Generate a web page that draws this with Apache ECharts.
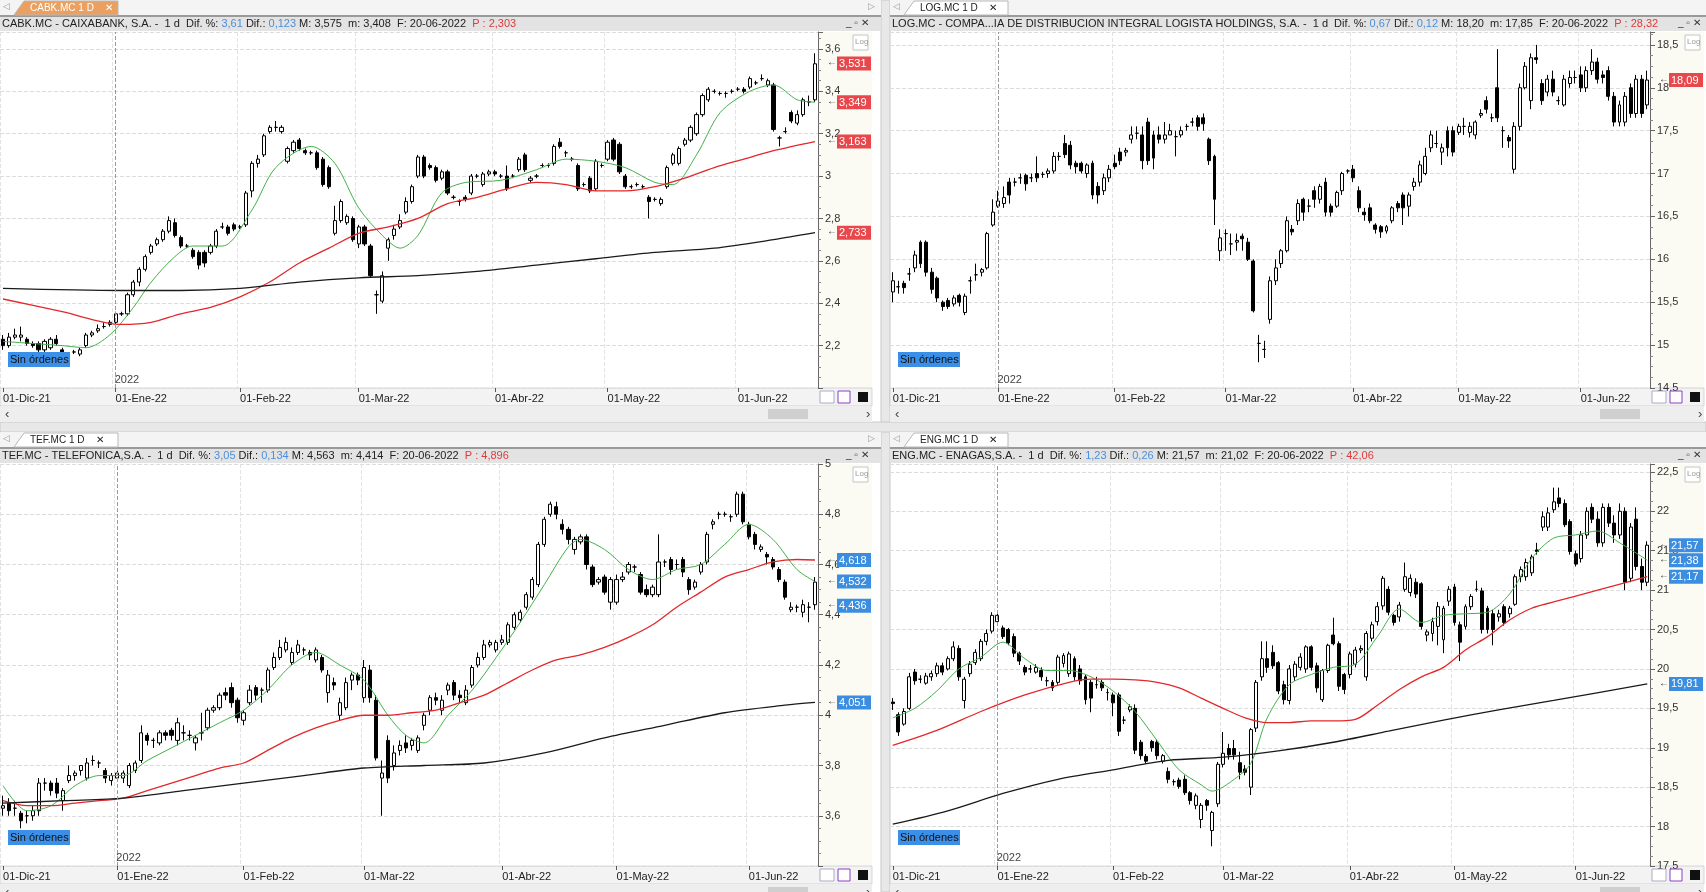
<!DOCTYPE html>
<html><head><meta charset="utf-8">
<script src="https://cdn.jsdelivr.net/npm/echarts/dist/echarts.min.js"></script>
<style>html,body{margin:0;padding:0;background:#fff;overflow:hidden}#c{width:1706px;height:892px}</style>
</head><body><div id="c"></div>
<script>
const monthLabels=['01-Dic-21','01-Ene-22','01-Feb-22','01-Mar-22','01-Abr-22','01-May-22','01-Jun-22'];
const monthCounts=[19,21,20,23,19,22,14];

// [open, close, low, high]
const cabk=[[2.23,2.20,2.18,2.25],[2.20,2.24,2.19,2.26],[2.24,2.25,2.23,2.28],[2.24,2.25,2.22,2.29],[2.23,2.21,2.20,2.24],[2.21,2.20,2.19,2.22],[2.21,2.18,2.17,2.22],[2.18,2.22,2.17,2.23],[2.19,2.23,2.18,2.24],[2.23,2.21,2.20,2.25],[2.18,2.17,2.15,2.19],[2.14,2.13,2.11,2.15],[2.17,2.17,2.16,2.18],[2.16,2.18,2.15,2.19],[2.20,2.25,2.19,2.26],[2.25,2.26,2.24,2.27],[2.27,2.28,2.26,2.30],[2.29,2.29,2.28,2.31],[2.30,2.31,2.29,2.32],
[2.31,2.35,2.30,2.36],[2.35,2.35,2.34,2.36],[2.35,2.44,2.34,2.45],[2.44,2.50,2.43,2.51],[2.50,2.56,2.48,2.57],[2.56,2.62,2.55,2.63],[2.64,2.67,2.63,2.68],[2.68,2.70,2.67,2.71],[2.70,2.74,2.69,2.75],[2.74,2.79,2.73,2.81],[2.78,2.72,2.71,2.80],[2.71,2.67,2.66,2.72],[2.67,2.67,2.66,2.68],[2.65,2.62,2.61,2.66],[2.64,2.58,2.56,2.65],[2.64,2.59,2.57,2.65],[2.64,2.67,2.63,2.68],[2.67,2.74,2.66,2.75],[2.76,2.76,2.75,2.78],[2.76,2.73,2.72,2.77],[2.77,2.75,2.74,2.78],
[2.76,2.76,2.75,2.77],[2.77,2.92,2.76,2.93],[2.93,3.06,2.90,3.07],[3.06,3.08,3.04,3.10],[3.10,3.19,3.09,3.20],[3.21,3.23,3.20,3.24],[3.23,3.23,3.21,3.26],[3.21,3.23,3.20,3.24],[3.07,3.13,3.06,3.14],[3.12,3.16,3.11,3.17],[3.17,3.13,3.12,3.18],[3.12,3.11,3.10,3.13],[3.11,3.11,3.10,3.12],[3.11,3.04,3.03,3.12],[3.08,2.96,2.95,3.09],[3.04,2.95,2.94,3.05],[2.73,2.79,2.72,2.86],[2.79,2.88,2.78,2.89],[2.78,2.81,2.77,2.82],[2.80,2.70,2.69,2.81],
[2.68,2.76,2.66,2.77],[2.76,2.68,2.67,2.77],[2.67,2.53,2.52,2.68],[2.44,2.44,2.35,2.46],[2.41,2.53,2.40,2.55],[2.66,2.70,2.60,2.71],[2.72,2.75,2.70,2.77],[2.76,2.79,2.75,2.82],[2.83,2.88,2.82,2.90],[2.88,2.95,2.87,2.96],[3.00,3.09,2.99,3.10],[3.09,3.00,2.99,3.10],[3.05,3.04,3.03,3.06],[3.04,2.98,2.97,3.05],[2.99,3.02,2.98,3.03],[3.02,2.92,2.91,3.03],[2.90,2.90,2.89,2.91],[2.88,2.88,2.86,2.89],[2.90,2.89,2.88,2.91],[2.92,3.00,2.91,3.01],[3.00,3.00,2.99,3.01],[2.96,3.01,2.95,3.02],[3.01,3.02,3.00,3.03],
[3.02,3.01,3.00,3.03],[3.00,3.00,2.99,3.01],[3.00,2.94,2.93,3.05],[3.00,3.00,2.99,3.01],[3.03,3.08,3.02,3.09],[3.10,3.03,3.02,3.11],[2.98,2.99,2.97,3.00],[3.00,3.00,2.99,3.01],[3.05,3.05,3.04,3.06],[3.05,3.05,3.04,3.06],[3.06,3.14,3.05,3.15],[3.16,3.14,3.13,3.18],[3.11,3.11,3.09,3.12],[3.08,3.08,3.07,3.09],[3.05,2.94,2.93,3.06],[2.96,2.96,2.95,2.97],[2.99,2.93,2.92,3.00],[2.94,3.07,2.93,3.08],[3.05,3.05,3.04,3.06],
[3.08,3.16,3.07,3.17],[3.17,3.08,3.07,3.18],[3.15,3.02,3.01,3.16],[3.00,2.95,2.94,3.01],[2.95,2.95,2.94,2.96],[2.96,2.96,2.95,2.97],[2.95,2.95,2.94,2.96],[2.90,2.88,2.80,2.91],[2.89,2.89,2.88,2.90],[2.87,2.89,2.86,2.90],[2.95,3.04,2.94,3.05],[3.06,3.10,3.05,3.11],[3.06,3.13,3.05,3.14],[3.15,3.17,3.14,3.18],[3.17,3.23,3.16,3.24],[3.20,3.29,3.19,3.30],[3.29,3.38,3.28,3.39],[3.36,3.41,3.35,3.42],[3.40,3.40,3.39,3.41],[3.39,3.39,3.38,3.40],[3.39,3.39,3.37,3.40],[3.40,3.40,3.39,3.41],
[3.41,3.41,3.40,3.42],[3.41,3.40,3.39,3.42],[3.42,3.46,3.41,3.47],[3.44,3.44,3.43,3.45],[3.46,3.46,3.45,3.48],[3.43,3.45,3.42,3.46],[3.43,3.22,3.21,3.44],[3.18,3.18,3.14,3.19],[3.21,3.21,3.20,3.23],[3.30,3.26,3.25,3.31],[3.25,3.29,3.24,3.31],[3.29,3.36,3.28,3.37],[3.35,3.35,3.33,3.38],[3.36,3.53,3.35,3.58]];
const cabkMaGreen=[[0,2.22],[5,2.21],[10,2.2],[14,2.19],[18,2.25],[22,2.38],[25,2.5],[29,2.62],[32,2.67],[37,2.67],[42,2.84],[46,3.04],[52,3.14],[56,3.06],[60,2.85],[64,2.72],[67,2.66],[70,2.72],[74,2.92],[78,2.97],[84,2.98],[90,3.03],[95,3.08],[100,3.07],[105,3.04],[110,2.97],[113,2.96],[117,3.1],[121,3.3],[126,3.4],[130,3.43],[134,3.36],[137,3.349]];
const cabkMaRed=[[0,2.42],[10,2.36],[20,2.3],[25,2.31],[30,2.35],[35,2.38],[40,2.43],[45,2.5],[50,2.59],[55,2.66],[60,2.73],[65,2.76],[70,2.8],[75,2.87],[80,2.9],[85,2.94],[90,2.97],[95,2.96],[100,2.93],[105,2.93],[110,2.95],[115,2.99],[120,3.04],[125,3.08],[130,3.12],[137,3.163]];
const cabkMaBlack=[[0,2.47],[20,2.46],[30,2.46],[40,2.47],[50,2.5],[60,2.52],[70,2.53],[80,2.55],[90,2.58],[100,2.61],[110,2.64],[120,2.66],[130,2.7],[137,2.733]];

const logi=[[15.62,15.75,15.5,15.85],[15.68,15.68,15.6,15.75],[15.72,15.67,15.6,15.75],[15.83,15.83,15.75,15.9],[15.9,16.05,15.85,16.1],[16.2,15.95,15.9,16.22],[16.2,15.85,15.8,16.22],[15.85,15.65,15.6,15.9],[15.78,15.55,15.5,15.8],[15.5,15.45,15.4,15.52],[15.52,15.45,15.42,15.55],[15.48,15.55,15.45,15.58],[15.58,15.5,15.45,15.6],[15.38,15.57,15.35,15.6],[15.75,15.75,15.6,15.8],[15.82,15.82,15.75,15.95],[15.85,15.88,15.8,15.9],[15.9,16.3,15.88,16.32],[16.4,16.55,16.38,16.7],[16.62,16.68,16.6,16.8],
[16.65,16.72,16.6,16.85],[16.9,16.75,16.65,16.95],[16.9,16.9,16.85,16.95],[16.95,16.95,16.88,17.0],[16.98,16.88,16.8,17.0],[16.95,16.95,16.9,17.0],[17.0,16.95,16.9,17.2],[16.99,16.99,16.95,17.02],[17.0,17.03,16.95,17.06],[17.03,17.2,17.0,17.25],[17.2,17.2,17.15,17.25],[17.35,17.22,17.18,17.45],[17.33,17.1,17.05,17.38],[17.12,17.08,17.0,17.15],[17.12,17.03,17.0,17.14],[17.0,17.1,16.95,17.12],[17.12,16.75,16.7,17.15],[16.85,16.75,16.65,16.9],[16.8,16.95,16.75,17.0],[16.95,17.05,16.9,17.1],
[17.12,17.08,17.05,17.22],[17.25,17.15,17.1,17.3],[17.25,17.27,17.2,17.3],[17.4,17.45,17.35,17.55],[17.47,17.47,17.4,17.55],[17.45,17.15,17.05,17.55],[17.6,17.15,17.1,17.65],[17.45,17.18,17.05,17.5],[17.45,17.4,17.35,17.55],[17.4,17.45,17.35,17.6],[17.45,17.5,17.45,17.58],[17.43,17.43,17.2,17.5],[17.45,17.5,17.42,17.55],[17.55,17.55,17.5,17.58],[17.6,17.6,17.55,17.65],[17.65,17.55,17.5,17.68],[17.65,17.58,17.5,17.7],[17.4,17.15,17.1,17.42],[17.2,16.7,16.4,17.22],[16.1,16.25,15.98,16.35],
[16.3,16.3,16.1,16.35],[16.18,16.18,16.05,16.3],[16.2,16.22,16.1,16.3],[16.27,16.24,16.1,16.3],[16.2,16.0,15.98,16.25],[15.98,15.4,15.38,16.0],[15.02,15.02,14.8,15.12],[14.95,14.95,14.85,15.05],[15.3,15.75,15.25,15.8],[15.75,15.9,15.7,16.0],[15.95,16.1,15.9,16.12],[16.1,16.45,16.08,16.5],[16.35,16.32,16.28,16.4],[16.45,16.65,16.4,16.7],[16.7,16.55,16.45,16.72],[16.62,16.62,16.55,16.7],[16.8,16.7,16.6,16.85],[16.7,16.85,16.65,16.88],[16.9,16.55,16.5,16.95],[16.62,16.55,16.5,16.65],
[16.62,16.78,16.6,16.8],[16.8,17.0,16.75,17.02],[17.03,17.03,17.0,17.05],[17.05,16.95,16.9,17.1],[16.8,16.6,16.55,16.85],[16.55,16.52,16.45,16.6],[16.6,16.45,16.42,16.65],[16.4,16.35,16.3,16.42],[16.38,16.32,16.25,16.4],[16.33,16.38,16.3,16.4],[16.45,16.6,16.42,16.62],[16.65,16.6,16.55,16.68],[16.75,16.6,16.4,16.78],[16.62,16.75,16.5,16.78],[16.85,16.9,16.8,16.95],[16.9,17.1,16.85,17.15],[17.0,17.2,16.98,17.3],[17.3,17.45,17.25,17.5],[17.35,17.35,17.3,17.5],[17.25,17.3,17.1,17.35],
[17.5,17.3,17.2,17.55],[17.5,17.25,17.2,17.55],[17.48,17.55,17.45,17.58],[17.55,17.55,17.45,17.65],[17.48,17.55,17.42,17.6],[17.45,17.6,17.4,17.62],[17.68,17.7,17.65,17.75],[17.85,17.75,17.7,17.9],[17.65,17.65,17.6,17.7],[18.0,17.65,17.6,18.45],[17.5,17.5,17.3,17.55],[17.42,17.38,17.3,17.45],[17.05,17.55,17.0,17.6],[17.55,18.0,17.5,18.05],[18.0,18.25,17.98,18.3],[17.85,18.35,17.75,18.4],[18.35,18.33,18.28,18.5],[18.05,17.85,17.8,18.1],[17.95,18.1,17.9,18.15],[18.1,17.95,17.9,18.2],
[17.85,17.85,17.8,17.9],[17.8,18.1,17.78,18.15],[18.05,18.12,18.0,18.2],[18.12,18.12,18.05,18.2],[18.15,18.0,17.95,18.25],[18.0,18.2,17.95,18.25],[18.2,18.3,18.15,18.45],[18.3,18.1,18.05,18.35],[18.15,18.12,18.05,18.2],[18.2,17.9,17.85,18.25],[17.9,17.6,17.55,17.95],[17.6,17.8,17.55,17.85],[17.6,17.9,17.55,17.95],[18.0,17.7,17.65,18.05],[17.7,18.1,17.65,18.15],[18.1,17.7,17.65,18.15],[17.8,18.09,17.75,18.2]];

const tef=[[3.63,3.64,3.6,3.68],[3.65,3.62,3.6,3.67],[3.63,3.63,3.6,3.66],[3.61,3.58,3.55,3.62],[3.6,3.6,3.57,3.62],[3.6,3.62,3.58,3.64],[3.62,3.73,3.6,3.75],[3.73,3.73,3.7,3.75],[3.73,3.7,3.68,3.74],[3.73,3.69,3.67,3.75],[3.66,3.7,3.62,3.71],[3.74,3.76,3.73,3.8],[3.76,3.77,3.74,3.78],[3.78,3.8,3.76,3.8],[3.75,3.81,3.74,3.83],[3.82,3.82,3.8,3.84],[3.81,3.81,3.79,3.82],[3.78,3.75,3.73,3.79],[3.74,3.76,3.72,3.77],[3.75,3.77,3.74,3.78],
[3.75,3.77,3.73,3.78],[3.72,3.8,3.71,3.81],[3.78,3.81,3.77,3.82],[3.82,3.93,3.81,3.96],[3.92,3.9,3.88,3.93],[3.9,3.9,3.87,3.91],[3.89,3.93,3.88,3.94],[3.93,3.92,3.9,3.94],[3.94,3.92,3.9,3.95],[3.9,3.97,3.88,3.99],[3.93,3.93,3.9,3.96],[3.92,3.92,3.9,3.94],[3.89,3.91,3.86,3.92],[3.93,3.93,3.9,4.01],[3.95,4.02,3.94,4.03],[4.02,4.03,4.01,4.04],[4.03,4.08,4.02,4.09],[4.09,4.08,4.06,4.11],[4.11,4.05,4.03,4.13],[4.06,3.99,3.97,4.07],
[3.98,4.01,3.96,4.02],[4.05,4.1,4.04,4.12],[4.11,4.08,4.06,4.12],[4.1,4.1,4.05,4.11],[4.1,4.18,4.09,4.19],[4.19,4.23,4.18,4.25],[4.23,4.27,4.22,4.3],[4.26,4.29,4.25,4.31],[4.21,4.25,4.2,4.27],[4.25,4.28,4.24,4.3],[4.26,4.26,4.24,4.27],[4.25,4.24,4.22,4.26],[4.22,4.26,4.21,4.27],[4.23,4.18,4.17,4.24],[4.09,4.16,4.05,4.18],[4.13,4.12,4.1,4.15],[4.0,4.05,3.98,4.07],[4.03,4.13,4.02,4.15],[4.14,4.16,4.1,4.17],[4.16,4.14,4.12,4.17],
[4.07,4.19,4.05,4.22],[4.18,4.07,4.05,4.2],[4.06,3.83,3.82,4.08],[3.75,3.77,3.6,3.82],[3.9,3.75,3.73,3.92],[3.8,3.85,3.78,3.88],[3.86,3.88,3.84,3.9],[3.89,3.87,3.85,3.92],[3.88,3.9,3.86,3.91],[3.86,3.91,3.85,3.92],[3.96,4.0,3.94,4.01],[4.02,4.07,4.0,4.08],[4.07,4.06,4.04,4.09],[4.02,4.06,4.0,4.08],[4.1,4.12,4.08,4.13],[4.13,4.08,4.06,4.14],[4.08,4.07,4.05,4.1],[4.05,4.1,4.04,4.12],[4.12,4.19,4.11,4.2],[4.2,4.23,4.19,4.25],
[4.23,4.28,4.22,4.3],[4.28,4.29,4.27,4.3],[4.26,4.29,4.25,4.3],[4.29,4.3,4.28,4.32],[4.29,4.36,4.28,4.37],[4.35,4.4,4.34,4.41],[4.38,4.41,4.37,4.42],[4.43,4.48,4.42,4.49],[4.47,4.54,4.46,4.55],[4.52,4.68,4.51,4.69],[4.68,4.78,4.67,4.79],[4.8,4.84,4.79,4.85],[4.83,4.8,4.78,4.85],[4.76,4.74,4.72,4.78],[4.74,4.7,4.68,4.75],[4.66,4.7,4.64,4.71],[4.69,4.71,4.68,4.72],[4.71,4.6,4.58,4.72],[4.59,4.52,4.51,4.6],[4.53,4.54,4.52,4.55],
[4.55,4.49,4.48,4.56],[4.45,4.54,4.42,4.55],[4.45,4.54,4.44,4.56],[4.54,4.55,4.53,4.57],[4.57,4.6,4.56,4.61],[4.59,4.59,4.57,4.6],[4.56,4.49,4.48,4.57],[4.5,4.48,4.47,4.52],[4.48,4.51,4.47,4.52],[4.48,4.61,4.47,4.72],[4.61,4.61,4.59,4.62],[4.62,4.58,4.56,4.63],[4.6,4.6,4.58,4.62],[4.62,4.57,4.55,4.63],[4.54,4.5,4.48,4.55],[4.51,4.53,4.5,4.54],[4.57,4.6,4.56,4.61],[4.61,4.72,4.6,4.73],[4.76,4.77,4.74,4.78],[4.8,4.8,4.78,4.81],
[4.8,4.8,4.79,4.81],[4.79,4.79,4.77,4.8],[4.8,4.88,4.79,4.89],[4.88,4.77,4.76,4.89],[4.76,4.71,4.7,4.77],[4.72,4.68,4.66,4.73],[4.66,4.67,4.65,4.68],[4.64,4.63,4.6,4.65],[4.62,4.59,4.58,4.63],[4.58,4.54,4.53,4.59],[4.53,4.47,4.46,4.54],[4.42,4.43,4.41,4.45],[4.43,4.43,4.41,4.44],[4.41,4.44,4.39,4.46],[4.43,4.43,4.37,4.45],[4.44,4.53,4.42,4.55]];
const tefMaGreen=[[0,3.72],[4,3.62],[8,3.64],[12,3.72],[16,3.76],[20,3.76],[24,3.82],[28,3.87],[32,3.92],[36,3.97],[40,4.02],[44,4.1],[48,4.2],[52,4.25],[56,4.2],[60,4.14],[64,4.0],[67,3.92],[70,3.89],[74,4.0],[78,4.1],[82,4.23],[86,4.37],[90,4.52],[94,4.67],[96,4.7],[100,4.66],[104,4.58],[108,4.54],[112,4.58],[116,4.6],[120,4.68],[124,4.76],[128,4.7],[132,4.58],[135,4.532]];
const tefMaRed=[[0,3.66],[4,3.64],[8,3.64],[12,3.65],[16,3.66],[20,3.67],[24,3.7],[28,3.73],[32,3.76],[36,3.79],[40,3.81],[44,3.86],[48,3.91],[52,3.95],[56,3.98],[60,4.0],[64,4.0],[68,4.01],[72,4.02],[76,4.05],[80,4.08],[84,4.13],[88,4.18],[92,4.22],[96,4.24],[100,4.27],[104,4.31],[108,4.36],[112,4.43],[116,4.49],[120,4.55],[124,4.58],[128,4.61],[132,4.62],[135,4.618]];
const tefMaBlack=[[0,3.65],[10,3.66],[20,3.67],[30,3.7],[40,3.73],[50,3.76],[60,3.79],[70,3.8],[80,3.81],[90,3.85],[100,3.91],[110,3.96],[120,4.01],[130,4.04],[135,4.051]];

const eng=[[19.58,19.56,19.48,19.63],[19.42,19.2,19.15,19.45],[19.3,19.46,19.28,19.5],[19.5,19.9,19.48,19.95],[19.96,19.85,19.8,20.0],[19.87,19.87,19.82,19.92],[19.82,19.91,19.8,19.95],[19.9,19.94,19.85,19.98],[19.94,20.04,19.9,20.08],[20.04,19.96,19.92,20.08],[20.0,20.13,19.98,20.16],[20.13,20.28,20.1,20.35],[20.26,19.9,19.85,20.3],[19.6,19.87,19.5,19.9],[19.94,20.06,19.9,20.1],[20.08,20.21,20.05,20.25],[20.13,20.35,20.1,20.38],[20.35,20.45,20.3,20.5],[20.48,20.68,20.45,20.72],[20.6,20.68,20.55,20.73],
[20.52,20.41,20.38,20.55],[20.5,20.33,20.3,20.52],[20.41,20.2,20.15,20.45],[20.2,20.1,20.05,20.22],[20.02,19.96,19.92,20.05],[20.0,20.0,19.95,20.05],[19.96,20.02,19.94,20.06],[19.98,19.9,19.85,20.02],[19.85,19.85,19.78,19.9],[19.83,19.76,19.72,19.86],[19.83,20.15,19.8,20.18],[20.07,20.17,20.02,20.2],[19.94,20.19,19.9,20.22],[20.13,19.9,19.85,20.16],[20.0,19.85,19.8,20.05],[19.9,19.61,19.55,19.93],[19.83,19.63,19.45,19.86],[19.8,19.8,19.75,19.9],[19.83,19.76,19.72,19.86],[19.7,19.7,19.6,19.75],
[19.67,19.57,19.4,19.7],[19.67,19.21,19.15,19.7],[19.35,19.35,19.3,19.4],[19.48,19.52,19.45,19.55],[19.5,18.97,18.92,19.55],[19.07,18.9,18.85,19.1],[18.89,18.83,18.8,18.92],[19.08,19.0,18.95,19.1],[19.07,18.9,18.85,19.1],[18.83,18.9,18.8,18.92],[18.7,18.6,18.55,18.75],[18.57,18.57,18.52,18.6],[18.59,18.51,18.48,18.62],[18.6,18.43,18.4,18.65],[18.43,18.33,18.28,18.45],[18.27,18.39,18.22,18.42],[18.09,18.27,17.98,18.3],[18.33,18.27,18.2,18.35],[17.95,18.18,17.75,18.2],[18.29,18.79,18.25,18.82],
[18.79,18.93,18.75,19.2],[18.99,18.91,18.85,19.05],[18.99,18.91,18.85,19.1],[18.81,18.69,18.6,18.95],[18.73,18.69,18.65,18.78],[18.5,19.23,18.4,19.25],[19.25,19.83,19.2,19.86],[19.9,20.13,19.85,20.35],[20.13,20.02,19.95,20.35],[20.21,20.04,20.0,20.3],[20.08,19.72,19.68,20.1],[19.8,19.61,19.55,19.85],[19.6,20.0,19.55,20.05],[19.9,20.06,19.85,20.1],[20.02,20.15,19.98,20.2],[20.0,20.28,19.95,20.3],[20.28,20.02,19.98,20.3],[20.04,19.76,19.7,20.08],[19.61,19.98,19.58,20.0],[19.98,20.3,19.95,20.32],
[20.43,20.32,20.3,20.65],[20.32,19.78,19.72,20.35],[19.93,19.74,19.68,19.95],[19.93,20.19,19.88,20.22],[20.06,20.24,20.02,20.28],[20.24,20.26,20.2,20.3],[19.9,20.45,19.85,20.48],[20.39,20.56,20.35,20.6],[20.6,20.79,20.55,20.85],[20.8,21.15,20.75,21.18],[21.01,20.72,20.68,21.05],[20.68,20.59,20.55,20.7],[20.66,20.81,20.6,20.85],[21.01,21.17,20.98,21.35],[20.97,21.15,20.92,21.2],[21.1,20.95,20.9,21.15],[21.08,20.54,20.5,21.1],[20.43,20.47,20.35,20.5],[20.45,20.6,20.35,20.65],[20.54,20.79,20.3,20.85],
[20.37,20.77,20.2,20.8],[20.86,21.01,20.8,21.05],[21.04,20.59,20.55,21.08],[20.56,20.34,20.1,20.6],[20.54,20.79,20.5,20.82],[20.79,20.92,20.75,20.95],[21.01,21.01,20.98,21.12],[20.99,20.5,20.45,21.03],[20.77,20.5,20.45,20.8],[20.7,20.5,20.3,20.75],[20.66,20.7,20.6,20.75],[20.79,20.59,20.55,20.82],[20.7,20.77,20.65,20.8],[20.82,21.17,20.8,21.2],[21.17,21.26,21.1,21.3],[21.17,21.35,21.12,21.4],[21.22,21.42,21.18,21.45],[21.51,21.49,21.45,21.6],[21.8,21.93,21.75,22.0],[21.8,21.98,21.75,22.05],
[22.02,22.12,21.98,22.3],[22.17,22.1,22.05,22.3],[22.1,21.83,21.8,22.15],[21.87,21.49,21.45,21.9],[21.46,21.33,21.3,21.5],[21.4,21.7,21.35,21.75],[21.7,22.0,21.65,22.05],[22.05,21.9,21.85,22.1],[21.9,21.6,21.55,22.0],[21.6,22.05,21.55,22.1],[22.05,21.85,21.8,22.1],[21.85,21.7,21.6,21.95],[21.7,22.0,21.65,22.1],[22.0,21.1,21.0,22.05],[21.15,21.8,21.1,21.85],[21.9,21.3,21.25,22.05],[21.3,21.1,21.0,21.4],[21.1,21.57,21.05,21.62]];
const engMaGreen=[[0,19.38],[4,19.5],[8,19.72],[12,20.0],[16,20.15],[20,20.34],[24,20.13],[28,19.98],[32,19.98],[36,19.9],[40,19.72],[44,19.46],[48,19.09],[52,18.72],[56,18.53],[58,18.45],[62,18.6],[65,18.8],[68,19.38],[72,19.8],[76,19.93],[80,20.02],[84,20.06],[88,20.41],[92,20.76],[96,20.59],[100,20.68],[104,20.7],[108,20.72],[112,20.95],[116,21.4],[120,21.66],[124,21.7],[128,21.75],[132,21.6],[137,21.38]];
const engMaRed=[[0,19.03],[8,19.22],[16,19.46],[24,19.67],[32,19.83],[36,19.87],[40,19.87],[44,19.86],[48,19.83],[52,19.76],[56,19.63],[60,19.5],[64,19.38],[68,19.32],[72,19.32],[76,19.34],[80,19.34],[84,19.36],[88,19.54],[92,19.74],[96,19.9],[100,20.02],[104,20.24],[108,20.41],[112,20.62],[116,20.77],[120,20.85],[128,21.0],[137,21.17]];
const engMaBlack=[[0,18.03],[10,18.2],[20,18.42],[30,18.6],[40,18.72],[50,18.84],[60,18.88],[70,18.96],[80,19.07],[90,19.21],[100,19.35],[110,19.48],[120,19.6],[137,19.81]];

const cats=[];monthCounts.forEach((n,m)=>{for(let k=0;k<n;k++)cats.push(m+'_'+k);});

const panels=[
 {data:cabk,ma:[cabkMaGreen,cabkMaRed,cabkMaBlack],min:2.0,max:3.68,interval:0.2,minL:false,maxL:false,
  l:0,r:818,t:32,b:388,tabY:0,tab:'CABK.MC 1 D',active:true,
  head:['CABK.MC - CAIXABANK, S.A. -  1 d  Dif. %: ','3,61',' Dif.: ','0,123',' M: 3,575  m: 3,408  F: 20-06-2022  ','P : 2,303'],
  badges:[[3.531,'#e8474c'],[3.349,'#e8474c'],[3.163,'#e8474c'],[2.733,'#e8474c']]},
 {data:logi,ma:[],min:14.5,max:18.65,interval:0.5,minL:true,maxL:false,
  l:890,r:1650,t:32,b:388,tabY:0,tab:'LOG.MC 1 D',active:false,
  head:['LOG.MC - COMPA...IA DE DISTRIBUCION INTEGRAL LOGISTA HOLDINGS, S.A. -  1 d  Dif. %: ','0,67',' Dif.: ','0,12',' M: 18,20  m: 17,85  F: 20-06-2022  ','P : 28,32'],
  badges:[[18.09,'#e8474c']]},
 {data:tef,ma:[tefMaGreen,tefMaRed,tefMaBlack],min:3.4,max:5.0,interval:0.2,minL:false,maxL:true,
  l:0,r:818,t:464,b:866,tabY:432,tab:'TEF.MC 1 D',active:false,
  head:['TEF.MC - TELEFONICA,S.A. -  1 d  Dif. %: ','3,05',' Dif.: ','0,134',' M: 4,563  m: 4,414  F: 20-06-2022  ','P : 4,896'],
  badges:[[4.618,'#3b8de0'],[4.532,'#3b8de0'],[4.436,'#3b8de0'],[4.051,'#3b8de0']]},
 {data:eng,ma:[engMaGreen,engMaRed,engMaBlack],min:17.5,max:22.6,interval:0.5,minL:true,maxL:false,
  l:890,r:1650,t:464,b:866,tabY:432,tab:'ENG.MC 1 D',active:false,
  head:['ENG.MC - ENAGAS,S.A. -  1 d  Dif. %: ','1,23',' Dif.: ','0,26',' M: 21,57  m: 21,02  F: 20-06-2022  ','P : 42,06'],
  badges:[[21.57,'#3b8de0'],[21.38,'#3b8de0'],[21.17,'#3b8de0'],[19.81,'#3b8de0']]}
];
const maColors=['#43b04a','#e3282b','#1a1a1a'];
const FONT='"Liberation Sans", Arial, sans-serif';
const fmt=v=>String(+(+v).toFixed(3)).replace('.',',');

const grid=[],xAxis=[],yAxis=[],series=[],graphic=[];
const AX=54;
graphic.push({type:'rect',shape:{x:881,y:0,width:9,height:892},style:{fill:'#e8e8e8',stroke:'#c8c8c8'},z:-5});
graphic.push({type:'rect',shape:{x:0,y:422,width:1706,height:10},style:{fill:'#e8e8e8',stroke:'#c8c8c8'},z:-5});
panels.forEach((p,i)=>{
  grid.push({left:p.l,top:p.t,width:p.r-p.l,height:p.b-p.t,containLabel:false});
  const cs=cats.slice(0,p.data.length);
  xAxis.push({type:'category',gridIndex:i,data:cs,boundaryGap:true,
    axisLine:{show:false},
    axisTick:{show:true,alignWithLabel:true,length:4,interval:(k,v)=>v.endsWith('_0'),lineStyle:{color:'#555'}},
    axisLabel:{show:true,interval:(k,v)=>v.endsWith('_0'),formatter:v=>{const a=v.split('_');return a[1]==='0'?monthLabels[+a[0]]:'';},
      align:'left',margin:5,fontSize:11,color:'#222',fontFamily:FONT},
    splitLine:{show:true,interval:(k,v)=>v.endsWith('_0'),lineStyle:{color:'#e2e2e2',type:'dashed'}}});
  yAxis.push({type:'value',gridIndex:i,position:'right',min:p.min,max:p.max,interval:p.interval,scale:true,
    axisLine:{show:true,lineStyle:{color:'#666'}},
    axisTick:{show:true,length:5,lineStyle:{color:'#666'}},
    minorTick:{show:true,splitNumber:4,length:3,lineStyle:{color:'#888'}},
    axisLabel:{formatter:v=>String(+(+v).toFixed(2)).replace('.',','),fontSize:11,color:'#333',margin:7,fontFamily:FONT,showMinLabel:p.minL,showMaxLabel:p.maxL},
    splitLine:{show:true,lineStyle:{color:'#dcdcdc',type:'dashed'}}});
  series.push({type:'candlestick',xAxisIndex:i,yAxisIndex:i,data:p.data,barWidth:'62%',
    itemStyle:{color:'#ffffff',color0:'#000000',borderColor:'#000000',borderColor0:'#000000',borderWidth:1},
    markLine:{silent:true,symbol:'none',animation:false,label:{show:false},lineStyle:{color:'#9a9a9a',type:'dashed',width:1},data:[{xAxis:cats[19]}]},
    z:3});
  p.ma.forEach((m,j)=>series.push({type:'line',xAxisIndex:i,yAxisIndex:i,data:m,smooth:0.3,symbol:'none',
    lineStyle:{color:maColors[j],width:j===0?1:1.3},z:4,animation:false}));
  const pw=(p.l===0?881:1706)-p.l;
  graphic.push({type:'rect',shape:{x:p.l,y:p.tabY,width:pw,height:15},style:{fill:'#f4f4f4'},z:-4});
  graphic.push({type:'text',x:p.l+3,y:p.tabY+2,style:{text:'◁',fontSize:9,fill:'#999'},z:1});
  graphic.push({type:'polygon',shape:{points:[[p.l+14,p.tabY+15],[p.l+24,p.tabY+1],[p.l+118,p.tabY+1],[p.l+118,p.tabY+15]]},
    style:{fill:p.active?'#e9a061':'#ffffff',stroke:'#b8b8b8'},z:1});
  graphic.push({type:'text',x:p.l+30,y:p.tabY+3,style:{text:p.tab+'    ✕',fontSize:10,fill:p.active?'#fff':'#222',fontFamily:FONT},z:2});
  if(p.l===0) graphic.push({type:'text',x:868,y:p.tabY+2,style:{text:'▷',fontSize:9,fill:'#999'},z:1});
  graphic.push({type:'rect',shape:{x:p.l,y:p.tabY+15,width:pw,height:2},style:{fill:'#9a9a9a'},z:-3});
  graphic.push({type:'rect',shape:{x:p.l,y:p.tabY+17,width:pw,height:14},style:{fill:'#e3e3e3'},z:-3});
  const h=p.head;
  graphic.push({type:'text',x:p.l+2,y:p.tabY+18,style:{text:'{a|'+h[0]+'}{b|'+h[1]+'}{a|'+h[2]+'}{b|'+h[3]+'}{a|'+h[4]+'}{r|'+h[5]+'}',
    rich:{a:{fontSize:11,fill:'#222',fontFamily:FONT},b:{fontSize:11,fill:'#4a8fdb',fontFamily:FONT},r:{fontSize:11,fill:'#e03a3a',fontFamily:FONT}}},z:2});
  graphic.push({type:'text',x:p.r+28,y:p.tabY+18,style:{text:'_ ▫ ✕',fontSize:10,fill:'#333',fontFamily:FONT},z:2});
  graphic.push({type:'rect',shape:{x:p.r,y:p.t,width:AX,height:p.b-p.t},style:{fill:'#fbfbf4'},z:-4});
  graphic.push({type:'rect',shape:{x:p.r+35,y:p.t+3,width:15,height:15},style:{fill:'#fff',stroke:'#c4c4c4'},z:1});
  graphic.push({type:'text',x:p.r+37,y:p.t+6,style:{text:'Log',fontSize:8,fill:'#999',fontFamily:FONT},z:2});
  graphic.push({type:'rect',shape:{x:p.l,y:p.b,width:p.r+AX-p.l,height:18},style:{fill:'#f3f3f3',stroke:'#b0b0b0',lineWidth:0.5},z:-4});
  graphic.push({type:'rect',shape:{x:p.r+2,y:p.b+3,width:14,height:12},style:{fill:'#fff',stroke:'#aac'},z:1});
  graphic.push({type:'rect',shape:{x:p.r+20,y:p.b+3,width:12,height:12},style:{fill:'#fff',stroke:'#8a3ec8'},z:1});
  graphic.push({type:'rect',shape:{x:p.r+40,y:p.b+4,width:10,height:10},style:{fill:'#111'},z:1});
  if(p.b+18<892){
    graphic.push({type:'rect',shape:{x:p.l,y:p.b+18,width:p.r+AX-p.l,height:16},style:{fill:'#eeeeee'},z:-4});
    graphic.push({type:'text',x:p.l+5,y:p.b+20,style:{text:'‹',fontSize:13,fill:'#444'},z:1});
    graphic.push({type:'rect',shape:{x:p.r-50,y:p.b+21,width:40,height:10},style:{fill:'#cfcfcf'},z:1});
    graphic.push({type:'text',x:p.r+AX-6,y:p.b+20,style:{text:'›',fontSize:13,fill:'#444'},z:1});
  }
  graphic.push({type:'rect',shape:{x:p.l+8,y:p.b-36,width:62,height:15},style:{fill:'#3b8fe6'},z:5});
  graphic.push({type:'text',x:p.l+10,y:p.b-34,style:{text:'Sin órdenes',fontSize:11,fill:'#111',fontFamily:FONT},z:6});
});

const chart=echarts.init(document.getElementById('c'),null,{renderer:'canvas'});
chart.setOption({animation:false,backgroundColor:'#ffffff',grid,xAxis,yAxis,series,graphic});
const extra=[];
panels.forEach((p,i)=>{
  const px=chart.convertToPixel({xAxisIndex:i},cats[19]);
  const x=px-(p.r-p.l)/p.data.length/2;
  extra.push({type:'text',x:x+2,y:p.b-14,style:{text:'2022',fontSize:11,fill:'#444',fontFamily:FONT},z:6});
  p.badges.forEach(b=>{
    const y=chart.convertToPixel({yAxisIndex:i},b[0]);
    extra.push({type:'text',x:p.r+9,y:y-6,style:{text:'←',fontSize:10,fill:'#333',fontFamily:FONT},z:7});
    extra.push({type:'rect',shape:{x:p.r+19,y:y-7,width:34,height:14},style:{fill:b[1]},z:7});
    extra.push({type:'text',x:p.r+21,y:y-5,style:{text:fmt(b[0]),fontSize:11,fill:'#fff',fontFamily:FONT},z:8});
  });
});
chart.setOption({graphic:graphic.concat(extra)});
</script></body></html>
